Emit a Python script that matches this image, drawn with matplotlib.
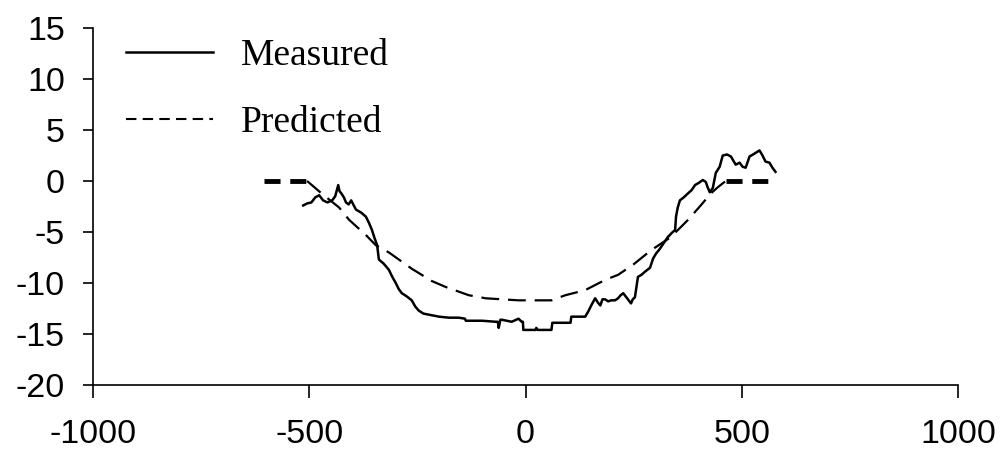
import numpy as np
import matplotlib.pyplot as plt
from matplotlib.lines import Line2D

plt.rcParams['axes.unicode_minus'] = False

# measured profile
meas_x = [-514, -505, -495, -486, -477, -468, -458, -447, -440, -433, -430, -426,
          -420, -415, -409, -403, -397, -392, -380, -369, -362, -355, -349, -343,
          -341, -339, -328, -316, -308, -300, -293, -286, -275, -263, -255, -247,
          -236, -224, -200, -177, -154, -140, -138, -100, -69, -64, -62, -58, -55,
          -32, -16, -9, -6, -5, 23, 25, 28, 60, 62, 104, 106, 138, 145,
          152, 161, 167, 173, 178, 184, 191, 198, 207, 214, 220, 226, 235, 244, 248, 253,
          260, 268, 276, 288, 295, 302, 308, 313, 321, 329, 338, 346, 348, 352, 357,
          366, 376, 384, 392, 400, 410, 417, 421, 426, 433, 440, 449, 456,
          466, 475, 486, 495, 502, 509, 518, 530, 541, 548, 555, 564, 571, 578]
meas_y = [-2.4, -2.2, -2.1, -1.6, -1.4, -1.9, -2.1, -1.9, -1.5, -0.4, -1.0, -1.2,
          -1.6, -2.1, -2.3, -1.9, -2.4, -2.8, -3.1, -3.5, -4.1, -4.8, -5.6, -6.3,
          -7.0, -7.7, -8.1, -8.7, -9.4, -10.0, -10.6, -11.0, -11.3, -11.7, -12.3, -12.7,
          -13.0, -13.1, -13.3, -13.4, -13.4, -13.5, -13.7, -13.7, -13.8, -13.8, -14.4, -13.6, -13.6,
          -13.8, -13.5, -13.8, -13.8, -14.6, -14.6, -14.4, -14.6, -14.6, -13.9, -13.9, -13.3, -13.3, -12.8,
          -12.2, -11.5, -11.9, -12.2, -11.6, -11.6, -11.8, -11.7, -11.7, -11.5, -11.2, -11.0, -11.5, -12.0, -11.6, -11.4,
          -9.4, -9.2, -8.9, -8.5, -7.6, -7.1, -6.8, -6.5, -6.0, -5.5, -5.1, -4.8, -3.5, -2.6, -1.9,
          -1.6, -1.2, -0.9, -0.4, -0.2, 0.1, -0.1, -0.6, -1.1, -0.7, 0.8, 1.4, 2.5,
          2.6, 2.4, 1.6, 1.8, 1.4, 1.3, 2.4, 2.7, 3.0, 2.5, 1.9, 1.8, 1.3, 0.9]

# predicted profile
pred_x = [-505, -472, -431, -408, -369, -346, -316, -263, -217, -184, -131, -92,
          -16, 60, 92, 138, 184, 214, 249, 290, 336, 376, 403, 429, 445, 463]
pred_y = [0.0, -1.2, -2.6, -3.8, -5.3, -6.3, -7.0, -8.6, -9.8, -10.4, -11.2, -11.5,
          -11.7, -11.7, -11.2, -10.7, -9.7, -9.2, -8.2, -6.8, -5.5, -3.8, -2.5, -1.2, -0.6, 0.0]

# flat zero sections outside the profile
flat_left_x = [-604, -505]
flat_right_x = [463, 572]
flat_y = [0, 0]

fig = plt.figure(figsize=(10.01, 4.55), dpi=100)
ax = fig.add_axes([93 / 1001, 70 / 455, 865 / 1001, 357 / 455])

ax.plot(meas_x, meas_y, color='black', lw=1.8)
ax.plot(pred_x, pred_y, color='black', lw=1.6, dashes=(8, 4))
ax.plot(flat_left_x, flat_y, color='black', lw=3.5, dashes=(3.3, 2), dash_capstyle='butt')
ax.plot(flat_right_x, flat_y, color='black', lw=3.5, dashes=(3.3, 2), dash_capstyle='butt')

ax.set_xlim(-1000, 1000)
ax.set_ylim(-20, 15)
ax.set_xticks([-1000, -500, 0, 500, 1000])
ax.set_yticks([-20, -15, -10, -5, 0, 5, 10, 15])

for s in ['top', 'right']:
    ax.spines[s].set_visible(False)
for s in ['left', 'bottom']:
    ax.spines[s].set_linewidth(1.2)
ax.tick_params(axis='both', direction='out', width=1.2, labelsize=24.5, colors='black')
ax.tick_params(axis='x', length=9.4, pad=15)
ax.tick_params(axis='y', length=7.2, pad=13)
for lab in ax.get_xticklabels() + ax.get_yticklabels():
    lab.set_fontfamily('Liberation Sans')

handles = [Line2D([], [], color='black', lw=1.8),
           Line2D([], [], color='black', lw=1.5, dashes=(5, 3))]
ax.legend(handles, ['Measured', 'Predicted'], loc='upper left',
          bbox_to_anchor=(-0.001, 1.066), frameon=False, handlelength=2.32,
          handletextpad=0.75, labelspacing=0.87,
          prop={'family': 'Liberation Serif', 'size': 27})

fig.savefig('out.png', dpi=100)
